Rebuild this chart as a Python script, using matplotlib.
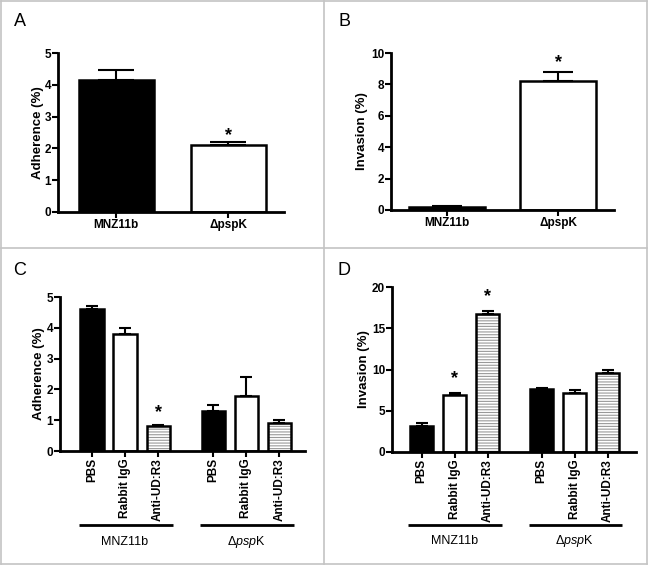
import numpy as np
import matplotlib
matplotlib.use('Agg')
import matplotlib.pyplot as plt
from matplotlib.lines import Line2D

plt.rcParams['font.family'] = ['Liberation Sans', 'DejaVu Sans']
plt.rcParams['mathtext.fontset'] = 'custom'
plt.rcParams['mathtext.rm'] = 'Liberation Sans'
plt.rcParams['mathtext.it'] = 'Liberation Sans:italic'
plt.rcParams['mathtext.bf'] = 'Liberation Sans:bold'
plt.rcParams['hatch.linewidth'] = 0.8

# Panel A / B data
strains = ['MNZ11b', 'ΔpspK']
adh_ab = [4.15, 2.1]
adh_ab_err = [0.3, 0.1]
inv_ab = [0.2, 8.2]
inv_ab_err = [0.05, 0.6]

# Panel C / D data
treatments = ['PBS', 'Rabbit IgG', 'Anti-UD:R3']
adh_wt = [4.6, 3.8, 0.8]
adh_wt_err = [0.1, 0.2, 0.05]
adh_ko = [1.3, 1.8, 0.9]
adh_ko_err = [0.2, 0.6, 0.1]
inv_wt = [3.2, 6.9, 16.7]
inv_wt_err = [0.3, 0.3, 0.4]
inv_ko = [7.6, 7.2, 9.6]
inv_ko_err = [0.1, 0.3, 0.4]

W, H = 648, 565
fig = plt.figure(figsize=(W / 100, H / 100), dpi=100)


def px_axes(left, right, top, bottom):
    return fig.add_axes([left / W, 1 - bottom / H, (right - left) / W, (bottom - top) / H])


def style(ax, ymax, ystep, ylabel, pad):
    for s in ['top', 'right']:
        ax.spines[s].set_visible(False)
    for s in ['left', 'bottom']:
        ax.spines[s].set_linewidth(2)
    ax.set_ylim(0, ymax)
    ax.set_yticks(np.arange(0, ymax + 0.01, ystep))
    ax.tick_params(width=1.5, length=4, labelsize=8.5, pad=1)
    for t in ax.get_yticklabels():
        t.set_fontweight('bold')
    ax.set_ylabel(ylabel, fontsize=9.5, fontweight='bold', labelpad=pad)


def bars(ax, x, vals, errs, kind, width, capsize):
    x = np.asarray(x)
    if kind == 'black':
        ax.bar(x, vals, width, color='black', edgecolor='black', linewidth=1.8, zorder=2)
    elif kind == 'white':
        ax.bar(x, vals, width, color='white', edgecolor='black', linewidth=1.8, zorder=2)
    else:
        ax.bar(x, vals, width, color='white', edgecolor='#999999', hatch='------',
               linewidth=0, zorder=2)
        ax.bar(x, vals, width, color='none', edgecolor='black', linewidth=1.8, zorder=3)
    ax.errorbar(x, vals, yerr=[np.zeros(len(vals)), errs], fmt='none', ecolor='black',
                elinewidth=1.5, capsize=capsize, capthick=1.5, zorder=4)


def star(ax, x, y, off):
    ax.annotate('*', (x, y), xytext=(0, off), textcoords='offset points',
                ha='center', va='center', fontsize=13, fontweight='bold')


# Panel A
axA = px_axes(58, 284, 53, 212)
xa = np.arange(2)
bars(axA, [0], adh_ab[:1], adh_ab_err[:1], 'black', 0.67, 13)
bars(axA, [1], adh_ab[1:], adh_ab_err[1:], 'white', 0.67, 13)
axA.set_xlim(-0.52, 1.5)
axA.set_xticks(xa)
axA.set_xticklabels(strains, fontweight='bold', fontsize=8.5)
style(axA, 5, 1, 'Adherence (%)', 0)
star(axA, 1, adh_ab[1] + adh_ab_err[1], 5)

# Panel B
axB = px_axes(391, 614, 53, 210)
bars(axB, [0], inv_ab[:1], inv_ab_err[:1], 'black', 0.68, 11)
bars(axB, [1], inv_ab[1:], inv_ab_err[1:], 'white', 0.68, 11)
axB.set_xlim(-0.5, 1.5)
axB.set_xticks(xa)
axB.set_xticklabels(strains, fontweight='bold', fontsize=8.5)
style(axB, 10, 2, 'Invasion (%)', 2)
star(axB, 1, inv_ab[1] + inv_ab_err[1], 7)


def grouped(ax, offset, wt, wt_err, ko, ko_err, cap, line_y, text_y):
    g1 = np.arange(3)
    g2 = g1 + offset
    kinds = ['black', 'white', 'hatch']
    for i in range(3):
        bars(ax, [g1[i]], [wt[i]], [wt_err[i]], kinds[i], 0.7, cap)
        bars(ax, [g2[i]], [ko[i]], [ko_err[i]], kinds[i], 0.7, cap)
    ax.set_xticks(np.concatenate([g1, g2]))
    ax.set_xticklabels(treatments * 2, rotation=90, fontweight='bold', fontsize=8.5)
    tr = ax.get_xaxis_transform()
    for g, lab in [(g1, 'MNZ11b'), (g2, 'Δ$\\mathit{psp}$K')]:
        ax.plot([g[0] - 0.4, g[-1] + 0.45], [line_y, line_y], color='black', lw=2,
                transform=tr, clip_on=False, solid_capstyle='butt')
        ax.text((g[0] + g[-1]) / 2, text_y, lab, transform=tr, ha='center', va='center',
                fontsize=9)
    return g1, g2


# Panel C
axC = px_axes(60, 305, 297, 451)
c1, c2 = grouped(axC, 3.67, adh_wt, adh_wt_err, adh_ko, adh_ko_err, 4.5, -0.48, -0.59)
axC.set_xlim(-0.97, 6.45)
style(axC, 5, 1, 'Adherence (%)', 1)
star(axC, c1[2], adh_wt[2] + adh_wt_err[2], 9)

# Panel D
axD = px_axes(392, 636, 287, 452)
d1, d2 = grouped(axD, 3.64, inv_wt, inv_wt_err, inv_ko, inv_ko_err, 4.5, -0.44, -0.54)
axD.set_xlim(-0.9, 6.5)
style(axD, 20, 5, 'Invasion (%)', 1)
star(axD, d1[1], inv_wt[1] + inv_wt_err[1], 10)
star(axD, d1[2], inv_wt[2] + inv_wt_err[2], 10)

# panel letters
for lab, x, y in [('A', 20, 22), ('B', 344, 22), ('C', 20, 270), ('D', 344, 270)]:
    fig.text(x / W, 1 - y / H, lab, fontsize=13, ha='center', va='center')

# panel frame
gray = '#c4c4c4'
for xs, ys in [([1, 647], [1, 1]), ([1, 647], [564, 564]), ([1, 1], [1, 564]),
               ([647, 647], [1, 564]), ([324, 324], [1, 564]), ([1, 647], [248, 248])]:
    fig.add_artist(Line2D([x / W for x in xs], [1 - y / H for y in ys], color=gray, lw=1.2))

fig.savefig('out.png', dpi=100)
